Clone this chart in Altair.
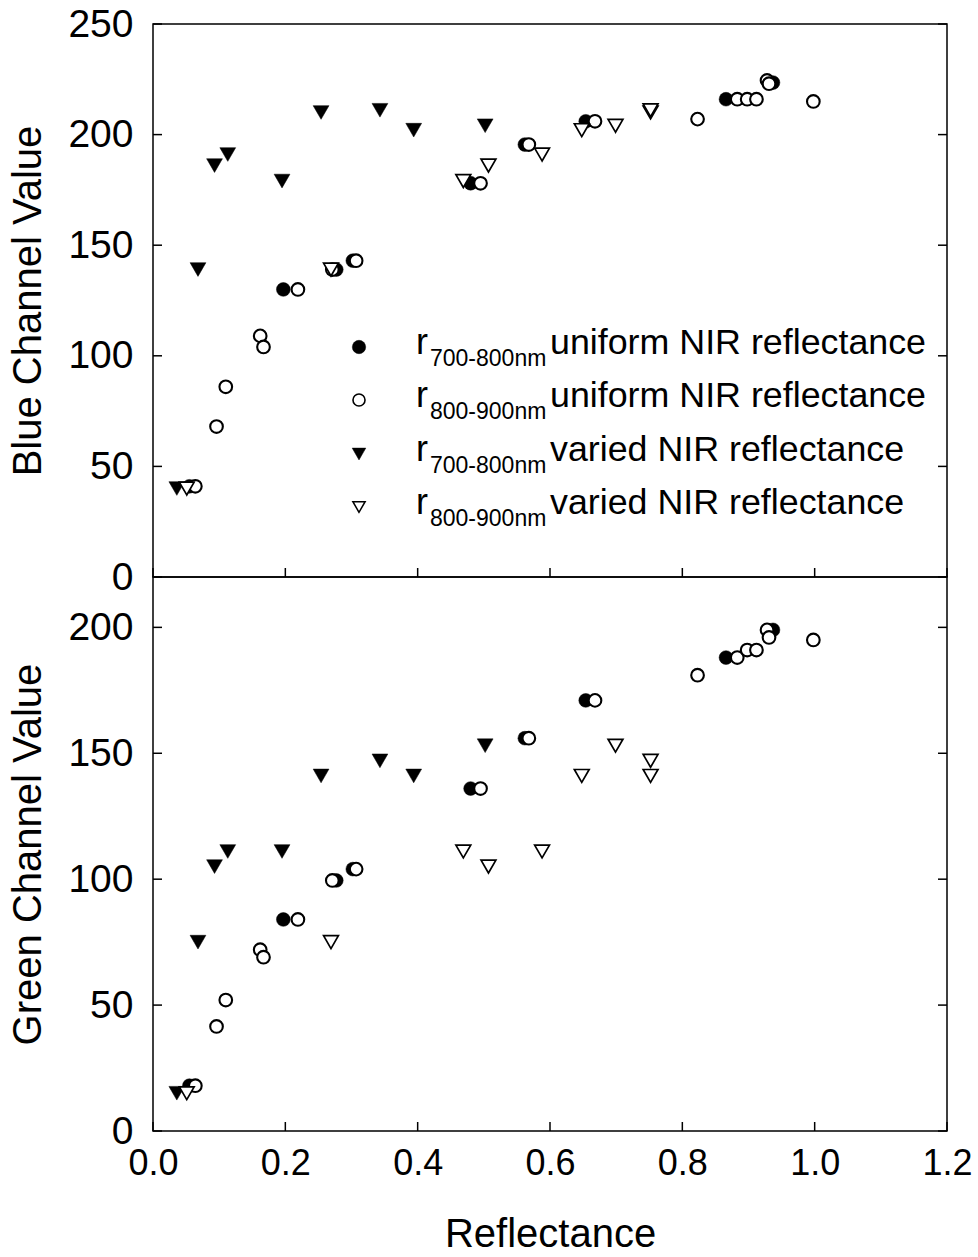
import altair as alt
import pandas as pd

# ---------------- data ----------------
x_ticks = [0.0, 0.2, 0.4, 0.6, 0.8, 1.0, 1.2]
blue_ticks = [0, 50, 100, 150, 200, 250]
green_ticks = [0, 50, 100, 150, 200]

# r700-800nm, uniform NIR reflectance (filled circles)
u700_x = [0.055, 0.197, 0.277, 0.302, 0.480, 0.562, 0.654, 0.866, 0.937]
u700_blue = [41, 130, 139, 143, 178, 195.5, 206, 216, 223.5]
u700_green = [18, 84, 99.5, 104, 136, 156, 171, 188, 199]

# r800-900nm, uniform NIR reflectance (open circles)
u800_x = [0.064, 0.096, 0.110, 0.162, 0.167, 0.219, 0.271, 0.307, 0.495,
          0.568, 0.668, 0.823, 0.883, 0.898, 0.912, 0.928, 0.931, 0.998]
u800_blue = [41, 68, 86, 109, 104, 130, 139, 143, 178,
             195.5, 206, 207, 216, 216, 216, 224.5, 223, 215]
u800_green = [18, 41.5, 52, 72, 69, 84, 99.5, 104, 136,
              156, 171, 181, 188, 191, 191, 199, 196, 195]

# r700-800nm, varied NIR reflectance (filled triangles)
v700_x = [0.036, 0.068, 0.093, 0.113, 0.195, 0.254, 0.343, 0.394, 0.502]
v700_blue = [40, 139, 186, 191, 179, 210, 211, 202, 204]
v700_green = [15, 75, 105, 111, 111, 141, 147, 141, 153]

# r800-900nm, varied NIR reflectance (open triangles)
v800_x = [0.051, 0.269, 0.507, 0.588, 0.469, 0.752, 0.752, 0.648, 0.699]
v800_blue = [40, 139, 186, 191, 179, 210, 211, 202, 204]
v800_green = [15, 75, 105, 111, 111, 141, 147, 141, 153]

legend_subs = ["700-800nm", "800-900nm", "700-800nm", "800-900nm"]
legend_descs = ["uniform NIR reflectance", "uniform NIR reflectance",
                "varied NIR reflectance", "varied NIR reflectance"]

# ---------------- layout ----------------
W = 794
H_TOP, H_BOT = 553, 554
TL = 9
FONT = "Liberation Sans"


def sdf(x, b, g):
    return pd.DataFrame({"x": x, "blue": b, "green": g})


df_u700 = sdf(u700_x, u700_blue, u700_green)
df_u800 = sdf(u800_x, u800_blue, u800_green)
df_v700 = sdf(v700_x, v700_blue, v700_green)
df_v800 = sdf(v800_x, v800_blue, v800_green)


def panel(ch, ymax, yticks, title, bottom, legend, H):
    xs = alt.Scale(domain=[0, 1.2], nice=False, zero=False)
    ys = alt.Scale(domain=[0, ymax], nice=False, zero=False)
    if bottom:
        xaxis = alt.Axis(values=x_ticks, format=".1f", title="Reflectance",
                         ticks=False, domain=False, grid=False,
                         labelFontSize=36, titleFontSize=40,
                         labelPadding=15, titlePadding=33, labelFlush=False)
    else:
        xaxis = None
    yaxis = alt.Axis(values=yticks, title=title, ticks=False, domain=False,
                     grid=False, labelFontSize=39, titleFontSize=40,
                     labelPadding=20, titlePadding=19, labelFlush=False)
    X = alt.X("x:Q", scale=xs, axis=xaxis)
    Y = alt.Y(f"{ch}:Q", scale=ys, axis=yaxis)

    tx = pd.DataFrame({"x": x_ticks})
    ty = pd.DataFrame({ch: yticks})
    rule = dict(color="black", strokeWidth=1.5)
    layers = [
        alt.Chart(df_u700).mark_point(shape="circle", filled=True, fill="black",
                                      stroke="black", strokeWidth=0.5, size=190,
                                      opacity=1).encode(x=X, y=Y),
        alt.Chart(ty).mark_rule(**rule).encode(y=Y, x=alt.value(0), x2=alt.value(TL)),
        alt.Chart(ty).mark_rule(**rule).encode(y=Y, x=alt.value(W - TL), x2=alt.value(W)),
        alt.Chart(tx).mark_rule(**rule).encode(x=X, y=alt.value(H - TL), y2=alt.value(H)),
        alt.Chart(df_u800).mark_point(shape="circle", filled=True, fill="white",
                                      stroke="black", strokeWidth=2.1, size=160,
                                      opacity=1).encode(x=X, y=Y),
        alt.Chart(df_v700).mark_point(shape="triangle-down", filled=True, fill="black",
                                      stroke="black", strokeWidth=0.5, size=250,
                                      opacity=1).encode(x=X, y=Y),
        alt.Chart(df_v800).mark_point(shape="triangle-down", filled=True, fill="white",
                                      stroke="black", strokeWidth=1.7, size=220,
                                      opacity=1).encode(x=X, y=Y),
    ]
    if legend:
        sym_x = 206
        rows_y = [323, 376, 430, 483]
        syms = [
            dict(shape="circle", fill="black", stroke="black", strokeWidth=0.5, size=180),
            dict(shape="circle", fill="white", stroke="black", strokeWidth=1.6, size=145),
            dict(shape="triangle-down", fill="black", stroke="black", strokeWidth=0.5, size=185),
            dict(shape="triangle-down", fill="white", stroke="black", strokeWidth=1.5, size=150),
        ]
        for i in range(4):
            yy = rows_y[i]
            one = pd.DataFrame({"sub": [legend_subs[i]], "desc": [legend_descs[i]]})
            layers.append(alt.Chart(one).mark_point(filled=True, opacity=1, **syms[i])
                          .encode(x=alt.value(sym_x), y=alt.value(yy)))
            layers.append(alt.Chart(one).mark_text(text="r", font=FONT, fontSize=36,
                                                   align="left", baseline="alphabetic",
                                                   color="black")
                          .encode(x=alt.value(263), y=alt.value(yy + 7)))
            layers.append(alt.Chart(one).mark_text(font=FONT, fontSize=23,
                                                   align="left", baseline="alphabetic",
                                                   color="black")
                          .encode(x=alt.value(277), y=alt.value(yy + 19), text="sub:N"))
            layers.append(alt.Chart(one).mark_text(font=FONT, fontSize=35.8,
                                                   align="left", baseline="alphabetic",
                                                   color="black")
                          .encode(x=alt.value(397), y=alt.value(yy + 7), text="desc:N"))
    return alt.layer(*layers).properties(width=W, height=H)


top = panel("blue", 250, blue_ticks, "Blue Channel Value", False, True, H_TOP)
bot = panel("green", 220, green_ticks, "Green Channel Value", True, False, H_BOT)

chart = (
    alt.vconcat(top, bot, spacing=0, bounds="flush")
    .properties(padding={"left": 8, "top": 4, "right": 2, "bottom": 0},
                background="white")
    .configure_view(stroke="black", strokeWidth=1.5)
    .configure_axis(labelFont=FONT, titleFont=FONT, labelColor="black",
                    titleColor="black", titleFontWeight="normal")
    .configure_text(font=FONT)
)

chart.save("out.html", embed_options={"renderer": "svg", "actions": False})
